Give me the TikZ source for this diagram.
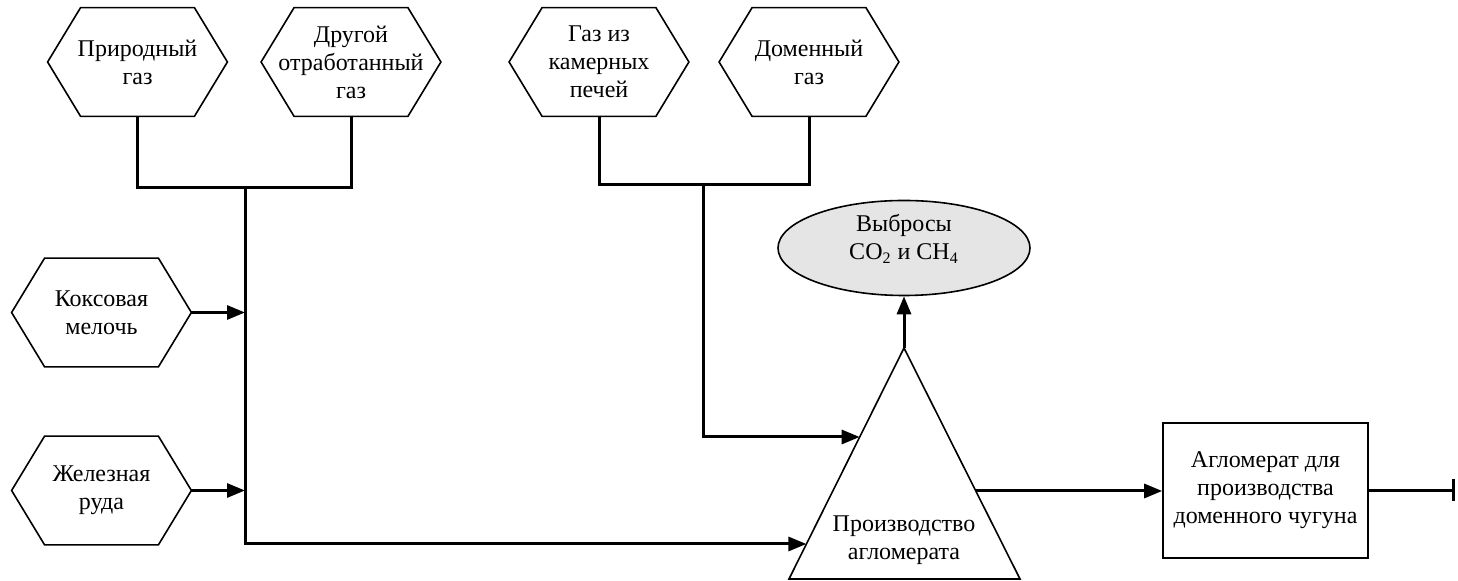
\documentclass[tikz,border=0pt]{standalone}
\usepackage{fontspec}
\setmainfont{Liberation Serif}
\usetikzlibrary{arrows.meta,calc,shapes.geometric}
\begin{document}
\begin{tikzpicture}[x=0.5pt,y=-0.5pt,
  font=\fontsize{12}{14}\selectfont,
  hexbox/.style={minimum width=89.5pt,minimum height=54pt,inner sep=0pt,align=center},
  hexline/.style={line width=0.8pt},
  conn/.style={line width=1.5pt},
  arr/.style={conn,-{Triangle[length=9pt,width=7pt]}},
  ]
\useasboundingbox (0,0) rectangle (1458,581);
% hexagon nodes
\node[hexbox] (h1) at (137.5,62) {Природный\\газ};
\node[hexbox] (h2) at (351,62) {Другой\\отработанный\\газ};
\node[hexbox] (h3) at (599,62) {Газ из\\камерных\\печей};
\node[hexbox] (h4) at (809,62) {Доменный\\газ};
\node[hexbox] (h5) at (101.5,312.5) {Коксовая\\мелочь};
\node[hexbox] (h6) at (101.5,490.5) {Железная\\руда};
\foreach \n in {h1,h2,h3,h4,h5,h6}{
  \draw[hexline] ([xshift=16.5pt]\n.north west) -- ([xshift=-16.5pt]\n.north east) -- (\n.east)
    -- ([xshift=-16.5pt]\n.south east) -- ([xshift=16.5pt]\n.south west) -- (\n.west) -- cycle;
}
% ellipse
\node[draw,fill=black!10,line width=0.8pt,ellipse,minimum width=126pt,minimum height=45pt,inner sep=0pt,align=center] (ell) at (904,248)
  {Выбросы\\CO\textsubscript{2} и CH\textsubscript{4}\\[-3pt]};
% triangle
\coordinate (tA) at (904,348);
\coordinate (tL) at (789,579);
\coordinate (tR) at (1020,579);
\draw[hexline,line join=miter] (tA) -- (tL) -- (tR) -- cycle;
\node[align=center] (tt) at (904,540) {Производство\\агломерата};
\coordinate (in1) at ($(tA)!0.3853!(tL)$);
\coordinate (in2) at ($(tA)!0.8485!(tL)$);
\coordinate (out1) at ($(tA)!0.619!(tR)$);
% box
\node[draw,line width=0.8pt,minimum width=102.5pt,minimum height=67.5pt,inner sep=0pt,align=center] (box) at (1265.5,490.5)
  {Агломерат для\\производства\\доменного чугуна};
\coordinate (endp) at (1455,490.5);
% junctions
\coordinate (j1) at (245,188);
\coordinate (j2) at (703,185);
\draw[conn] (h1.south) |- (j1);
\draw[conn] (h2.south) |- (j1);
\draw[conn] (h3.south) |- (j2);
\draw[conn] (h4.south) |- (j2);
\draw[arr] (j1) |- (in2);
\draw[arr] (j2) |- (in1);
\draw[arr] (h5.east) -- (h5.east -| j1);
\draw[arr] (h6.east) -- (h6.east -| j1);
\draw[arr] (tA) -- (ell.south);
\draw[arr] (out1) -- (box.west |- out1);
\draw[conn,-{Bar[width=11pt]}] (box.east) -- (endp);
\end{tikzpicture}
\end{document}
